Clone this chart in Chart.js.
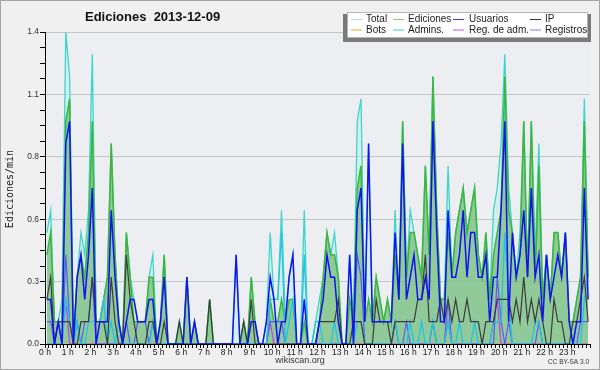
<!DOCTYPE html>
<html>
<head>
<meta charset="utf-8">
<script src="https://cdn.jsdelivr.net/npm/chart.js@4.4.0/dist/chart.umd.min.js"></script>
<style>
  html, body { margin: 0; padding: 0; background: #f0f0f0; }
  canvas { display: block; }
</style>
</head>
<body>
<canvas id="editsChart" width="600" height="370"></canvas>
<script>
// edits per 10-minute slot (the axis shows them as edits/min)
const slots = Array.from({length: 144}, (_, i) => i); // 0 = 00:00, 143 = 23:50

const totalEdits = [
  5,6,1,1,2,14,12,0,3,5,4,6,13,1,1,2,3,9,4,1,0,5,3,2,1,1,1,3,4,
  0,1,4,0,0,0,1,0,3,0,1,0,0,0,2,0,0,0,0,0,0,4,0,1,0,3,1,0,0,
  1,5,2,2,6,1,3,4,0,0,6,0,0,1,2,3,5,4,5,3,0,0,4,1,10,11,1,9,1,
  3,2,1,2,1,6,2,10,3,6,5,4,3,8,4,12,6,2,2,8,3,5,6,7,5,6,7,4,3,
  5,2,6,7,9,13,7,5,3,5,10,3,10,4,9,2,4,2,5,5,3,5,1,1,2,3,11,3
];
const articleEdits = [
  4,5,1,1,1,10,11,0,3,4,3,5,10,1,1,2,3,9,4,1,0,5,3,1,1,1,1,3,3,
  0,1,4,0,0,0,1,0,3,0,1,0,0,0,2,0,0,0,0,0,0,0,0,1,0,3,1,0,0,
  0,2,1,1,2,1,2,2,0,0,1,0,0,0,1,3,5,4,4,3,0,0,2,1,7,8,1,2,1,
  3,2,1,2,1,4,2,10,3,5,5,4,3,8,4,12,6,2,2,5,3,5,6,7,5,6,7,4,3,
  5,2,4,5,6,12,6,5,3,4,10,3,10,3,8,2,4,2,5,5,3,5,1,1,2,3,10,3
];
const userEdits = [
  2,2,0,1,0,9,10,0,3,4,2,4,7,0,1,1,1,6,3,1,0,1,2,2,1,1,1,2,2,
  0,1,3,0,0,0,0,0,3,0,1,0,0,0,0,0,0,0,0,0,0,4,0,0,0,1,1,0,0,
  1,3,2,0,1,1,3,4,0,0,2,0,0,0,1,2,4,3,3,1,0,0,4,0,6,7,1,9,1,
  1,1,1,1,1,5,2,9,2,3,4,2,2,3,2,10,5,1,1,6,3,3,4,6,3,5,5,3,3,
  4,1,3,3,6,10,1,5,3,4,6,3,7,3,4,1,4,2,3,4,3,5,1,0,1,1,7,2
];
const ipEdits = [
  2,3,0,1,1,1,1,0,0,1,1,1,3,1,1,1,0,3,1,0,0,4,2,1,0,0,0,1,1,
  0,0,1,0,0,0,1,0,0,0,0,0,0,0,2,0,0,0,0,0,0,0,0,1,0,2,0,0,0,
  0,0,0,0,0,0,0,0,0,0,0,0,0,0,1,1,1,1,1,2,0,0,0,1,1,1,0,0,0,
  2,1,1,1,0,1,1,1,1,1,1,2,2,4,1,1,1,2,1,2,1,2,1,1,2,1,1,1,0,
  1,1,1,2,2,2,2,1,2,1,3,1,2,1,2,1,0,0,2,1,1,0,0,1,1,2,3,1
];
const botEdits = [
  0,0,0,0,0,0,0,0,0,0,0,0,0,0,0,0,0,0,0,0,0,0,0,0,0,0,0,0,0,
  0,0,0,0,0,0,0,0,0,0,0,0,0,0,0,0,0,0,0,0,0,0,0,0,0,0,0,0,0,
  0,0,0,0,0,0,0,0,0,0,0,0,0,0,0,0,0,0,0,0,0,0,0,0,0,0,0,0,0,
  0,0,0,0,0,0,0,0,0,0,0,0,0,0,0,0,0,0,0,0,0,0,0,0,0,0,0,0,0,
  0,0,0,0,0,0,0,0,0,0,0,0,0,0,0,0,0,0,0,0,0,0,0,0,0,0,0,0
];
const adminEdits = [
  0,0,0,0,0,2,1,0,1,0,0,1,1,1,1,2,0,1,0,1,0,0,0,0,0,0,0,0,1,
  0,0,0,0,0,0,0,0,0,0,0,0,0,0,0,0,0,0,0,0,0,0,0,0,0,0,0,0,0,
  0,2,2,2,5,0,1,2,0,0,4,0,0,1,1,0,0,0,1,0,0,0,0,0,1,1,0,0,0,
  0,0,0,0,0,1,0,0,0,1,0,0,1,0,0,1,0,0,0,1,0,0,1,0,0,0,1,0,0,
  0,0,1,1,1,5,2,0,0,0,0,0,0,1,1,0,0,0,0,0,0,0,0,0,0,0,2,3
];
const adminLogs = [
  0,0,0,0,0,2,0,0,0,0,0,0,0,0,0,0,0,0,0,0,0,0,0,0,0,0,0,0,0,
  0,0,0,0,0,0,0,0,0,0,0,0,0,0,0,0,0,0,0,0,0,0,0,0,0,0,0,0,0,
  0,1,0,0,0,0,0,0,0,0,0,0,0,0,0,0,0,0,0,0,0,0,0,0,0,0,0,0,0,
  0,0,0,0,0,0,0,0,0,0,0,0,0,0,0,0,0,0,0,1,0,0,0,0,0,0,0,0,0,
  0,0,1,2,0,0,0,0,0,0,0,0,0,0,0,0,0,0,0,0,0,0,0,0,0,0,0,0
];
const logEntries = [
  1,1,0,1,0,4,1,0,1,0,1,1,3,0,0,0,0,0,0,0,0,1,0,0,1,1,1,0,1,
  0,0,0,0,0,0,0,0,0,0,0,0,0,0,0,0,0,0,0,0,0,0,0,0,0,0,0,0,0,
  0,1,1,1,1,0,0,0,0,0,0,0,0,0,0,0,0,0,0,0,0,0,0,0,4,3,0,0,0,
  0,0,0,0,0,1,0,0,1,0,0,0,0,0,0,1,0,0,0,2,0,0,0,0,0,0,0,0,0,
  0,0,0,3,1,0,1,0,0,0,0,0,0,0,1,0,0,0,0,0,0,0,0,0,0,1,1,1
];

const seriesNames = ['Total', 'Ediciones', 'Usuarios', 'IP', 'Bots', 'Admins.', 'Reg. de adm.', 'Registros'];
const legendColors = ['#a8e6e2', '#7fcc7f', '#3a3ad8', '#333333', '#f0a030', '#3cc6e2', '#d050e6', '#7c7cf2'];

// point sits in the middle of its 10 minute slot
function pts(values) {
  return slots.map((s, i) => ({x: s + 0.5, y: values[i]}));
}

function lineSet(label, values, color, width, order) {
  return {
    label: label, data: pts(values), borderColor: color, borderWidth: width,
    pointRadius: 0, tension: 0, fill: false, order: order
  };
}

const decor = {
  id: 'decor',
  beforeDraw(chart) {
    const {ctx, chartArea: a} = chart;
    ctx.save();
    ctx.fillStyle = '#f0f0f0';
    ctx.fillRect(0, 0, chart.width, chart.height);
    ctx.fillStyle = '#eceef1';
    ctx.fillRect(a.left, a.top, a.right - a.left, a.bottom - a.top);
    ctx.restore();
  },
  afterDraw(chart) {
    const ctx = chart.ctx;
    ctx.save();
    // title
    ctx.fillStyle = '#111';
    ctx.font = 'bold 13px "Liberation Sans"';
    ctx.textBaseline = 'alphabetic';
    ctx.textAlign = 'left';
    ctx.fillText('Ediciones  2013-12-09', 85, 21);

    // y title
    ctx.save();
    ctx.translate(10, 189);
    ctx.rotate(-Math.PI / 2);
    ctx.font = '10px "DejaVu Sans Mono"';
    ctx.textAlign = 'center';
    ctx.textBaseline = 'middle';
    ctx.fillStyle = '#222';
    ctx.fillText('Ediciones/min', 0, 0);
    ctx.restore();

    // footer
    ctx.fillStyle = '#333';
    ctx.font = '9px "Liberation Sans"';
    ctx.textAlign = 'center';
    ctx.textBaseline = 'middle';
    ctx.fillText('wikiscan.org', 300, 361);
    ctx.font = '6.5px "Liberation Sans"';
    ctx.textAlign = 'right';
    ctx.fillText('CC BY-SA 3.0', 589, 362);

    // legend box with its shadow
    ctx.fillStyle = '#7a7a7a';
    ctx.fillRect(343, 14, 248, 28);
    ctx.fillStyle = '#fff';
    ctx.fillRect(347, 12, 241, 26);
    ctx.strokeStyle = '#b4b4b4';
    ctx.lineWidth = 1;
    ctx.strokeRect(347.5, 12.5, 240, 25);

    const lineX = [351, 393, 453, 530];
    const textX = [366, 408, 469, 545];
    const rowY = [19, 29.5];
    ctx.font = '10px "Liberation Sans"';
    ctx.textAlign = 'left';
    ctx.textBaseline = 'middle';
    seriesNames.forEach((name, k) => {
      const col = k % 4, row = Math.floor(k / 4);
      ctx.strokeStyle = legendColors[k];
      ctx.beginPath();
      ctx.moveTo(lineX[col], rowY[row] + 0.5);
      ctx.lineTo(lineX[col] + 11, rowY[row] + 0.5);
      ctx.stroke();
      ctx.fillStyle = '#222';
      ctx.fillText(name, textX[col], rowY[row] + 0.5);
    });

    // outer frame
    ctx.strokeStyle = '#a6a6a6';
    ctx.strokeRect(0.5, 0.5, chart.width - 1, chart.height - 1);
    ctx.restore();
  }
};

const tickFont = {family: 'Liberation Sans', size: 8.5};

new Chart(document.getElementById('editsChart').getContext('2d'), {
  type: 'line',
  data: {
    datasets: [
      {
        label: seriesNames[0], data: pts(totalEdits), borderColor: '#3cd6cc', borderWidth: 1.3,
        backgroundColor: 'rgba(200,238,228,0.6)', fill: 'origin', pointRadius: 0, tension: 0, order: 9
      },
      {
        label: seriesNames[1], data: pts(articleEdits), borderColor: '#3cb63c', borderWidth: 1.5,
        backgroundColor: 'rgba(72,166,72,0.5)', fill: 'origin', pointRadius: 0, tension: 0, order: 8
      },
      lineSet(seriesNames[4], botEdits, '#f0a030', 1, 7),
      lineSet(seriesNames[6], adminLogs, '#c83ce8', 1.2, 6),
      lineSet(seriesNames[7], logEntries, '#5a5af5', 1.2, 5),
      lineSet(seriesNames[5], adminEdits, '#22c4e4', 1.3, 4),
      lineSet(seriesNames[3], ipEdits, '#3c3c3c', 1.2, 3),
      lineSet(seriesNames[2], userEdits, '#1212f2', 1.5, 2)
    ]
  },
  options: {
    responsive: false,
    animation: false,
    devicePixelRatio: 1,
    layout: {padding: {left: 0, right: 10, top: 32, bottom: 0}},
    plugins: {legend: {display: false}, tooltip: {enabled: false}},
    scales: {
      x: {
        type: 'linear', min: 0, max: 144, z: 1,
        ticks: {
          stepSize: 1, autoSkip: false, maxRotation: 0, minRotation: 0, padding: 0,
          font: tickFont, color: '#222',
          callback: v => (v % 6 === 0 && v < 144) ? (v / 6) + ' h' : ''
        },
        grid: {drawOnChartArea: false, tickLength: 4, tickColor: '#000'},
        border: {color: '#000'},
        afterFit: s => { s.height = 26; }
      },
      y: {
        min: 0, max: 14,
        ticks: {
          stepSize: 0.7, autoSkip: false, padding: 1, font: tickFont, color: '#333',
          callback: (v, i) => i % 4 === 0 ? (v / 10).toFixed(1) : ''
        },
        grid: {
          color: c => c.index % 4 === 0 ? '#c6c6c6' : 'rgba(0,0,0,0)',
          tickColor: '#000', tickLength: 5
        },
        border: {color: '#000'},
        afterFit: s => { s.width = 45; }
      }
    }
  },
  plugins: [decor]
});
</script>
</body>
</html>
